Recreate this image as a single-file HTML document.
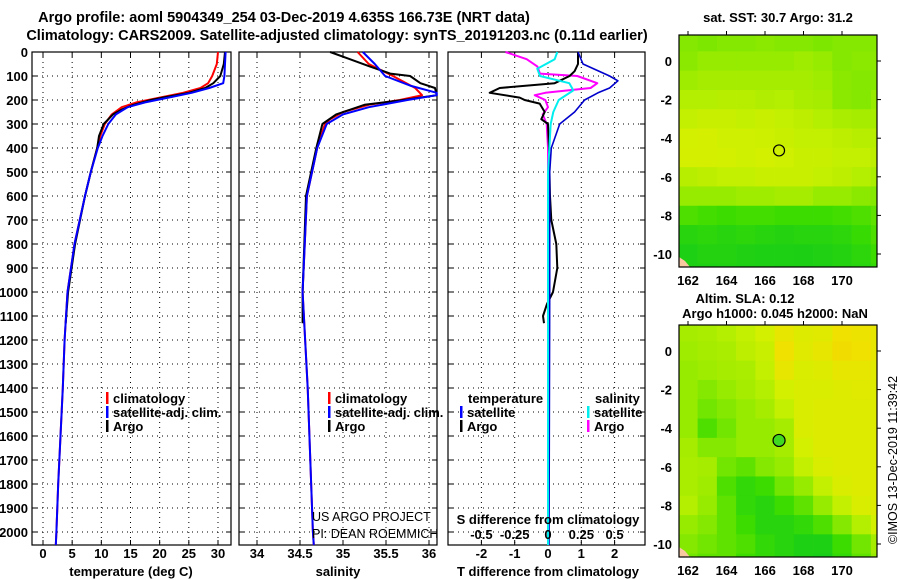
<!DOCTYPE html>
<html><head><meta charset="utf-8"><style>
html,body{margin:0;padding:0;background:#fff;}
svg{display:block;font-family:"Liberation Sans",sans-serif;}
.b{font-weight:bold;font-size:13px;}
.t{font-weight:bold;font-size:14.5px;}
</style></head><body>
<svg id="s" width="900" height="580" xmlns="http://www.w3.org/2000/svg"></svg>
<script>
// ---- data ----
const depthTicks=[0,100,200,300,400,500,600,700,800,900,1000,1100,1200,1300,1400,1500,1600,1700,1800,1900,2000];
const tempTicks=[0,5,10,15,20,25,30];
const salTicks=[34,34.5,35,35.5,36];
const diffTicks=[-2,-1,0,1,2];
const sdiffTicks=[-0.5,-0.25,0,0.25,0.5];
const tempClimD=[0,50,100,130,150,170,190,210,230,260,300,350,400,500,600,800,1000,1200,1400,1600,1800,2000,2054];
const tempClimV=[30,29.8,29,28.3,27,24,20,16,13.5,11.8,10.6,9.8,9.3,8.2,7.2,5.4,4.2,3.7,3.4,3.0,2.6,2.3,2.2];
const tempSatD=[0,50,100,130,150,170,190,210,230,260,300,350,400,500,600,800,1000,1200,1400,1600,1800,2000,2054];
const tempSatV=[31.3,31.2,31.1,30.9,28.5,25.5,21.5,17.5,14.5,12.5,11.2,10.2,9.4,8.2,7.2,5.4,4.2,3.7,3.4,3.0,2.6,2.3,2.2];
const tempArgoD=[0,50,100,130,150,170,190,200,220,240,260,300,350,400,500,600,800,1000,1130];
const tempArgoV=[31.2,31.0,30.4,29.2,27.8,25,20.5,18.5,15.5,13.5,12,10.4,9.6,9.3,8.2,7.2,5.5,4.3,3.9];
const salClimD=[0,50,100,150,180,200,220,250,280,300,400,600,1000,1400,2000,2054];
const salClimV=[35.17,35.3,35.58,35.84,35.92,35.66,35.3,35.0,34.85,34.79,34.7,34.58,34.53,34.59,34.65,34.66];
const salSatD=[0,50,100,140,170,180,200,230,260,300,400,600,1000,1400,2000,2054];
const salSatV=[35.23,35.37,35.49,35.78,36.09,36.09,35.75,35.3,35.0,34.81,34.7,34.58,34.53,34.59,34.65,34.66];
const salArgoD=[0,30,60,90,100,130,150,180,200,220,260,300,400,600,1000,1130];
const salArgoV=[34.85,35.08,35.31,35.55,35.78,35.9,36.07,36.09,35.7,35.25,34.92,34.76,34.69,34.57,34.53,34.53];
const dTSatD=[0,50,100,120,150,170,200,250,300,400,500,1000,2054];
const dTSatV=[0.9,1.05,1.85,2.1,1.85,1.5,1.1,0.8,0.35,0.1,0.05,0.05,0.03];
const dTArgoD=[0,50,80,100,130,150,170,190,200,215,250,280,300,400,600,700,800,900,1000,1050,1100,1130];
const dTArgoV=[0.9,0.9,0.8,0.65,0.2,-1.45,-1.75,-0.85,-0.7,-0.25,-0.1,-0.2,0,0.03,0.06,0.1,0.25,0.28,0.15,-0.03,-0.15,-0.12];
const dSSatD=[0,30,70,100,130,160,200,250,300,500,1000,2054];
const dSSatV=[0.07,0.05,-0.08,-0.06,0.16,0.19,0.08,0.04,0.02,0,0,0];
const dSArgoD=[0,30,60,90,100,130,150,170,180,200,230,260,300,400,1130];
const dSArgoV=[-0.32,-0.16,-0.08,-0.06,0.22,0.37,0.32,-0.02,-0.1,-0.02,0,-0.04,-0.01,0,0];
const mapLonTicks=[162,164,166,168,170];
const mapLatTicks=[0,-2,-4,-6,-8,-10];
const sstGrid=[
[.5,.48,.5,.5,.52,.5,.5,.48,.5,.5,.5],
[.52,.55,.55,.55,.55,.55,.58,.55,.5,.52,.52],
[.58,.6,.6,.6,.6,.6,.6,.58,.52,.5,.5],
[.65,.65,.66,.66,.64,.65,.62,.6,.52,.5,.55],
[.7,.72,.72,.7,.72,.7,.68,.65,.62,.6,.6],
[.75,.76,.74,.74,.73,.72,.7,.7,.68,.66,.66],
[.76,.76,.75,.74,.75,.74,.72,.72,.7,.7,.68],
[.66,.68,.7,.7,.72,.72,.72,.7,.68,.65,.62],
[.55,.55,.55,.58,.58,.6,.6,.55,.55,.52,.5],
[.35,.32,.3,.32,.32,.3,.3,.3,.32,.35,.4],
[.2,.22,.2,.22,.2,.18,.2,.2,.22,.28,.35],
[.15,.18,.18,.16,.15,.15,.14,.16,.18,.22,.3],
[.15,.15,.16,.15,.15,.14,.14,.15,.18,.2,.25]];
const slaGrid=[
[.6,.62,.65,.7,.75,.85,.8,.82,.9,.88,.85],
[.58,.6,.62,.68,.72,.9,.82,.85,.92,.9,.85],
[.55,.58,.6,.62,.7,.85,.78,.8,.85,.85,.82],
[.55,.5,.55,.6,.65,.75,.78,.78,.8,.82,.8],
[.55,.45,.5,.55,.6,.7,.78,.8,.8,.8,.8],
[.55,.35,.45,.55,.55,.6,.78,.8,.8,.8,.8],
[.6,.5,.5,.55,.55,.6,.75,.8,.8,.8,.8],
[.62,.6,.45,.4,.5,.55,.7,.78,.8,.8,.8],
[.62,.58,.35,.25,.3,.45,.55,.7,.78,.8,.8],
[.65,.55,.4,.25,.2,.3,.4,.55,.7,.78,.8],
[.55,.5,.4,.3,.2,.2,.25,.35,.5,.65,.75],
[.5,.45,.4,.35,.25,.2,.15,.15,.3,.45,.6],
[.45,.4,.4,.3,.25,.2,.15,.12,.25,.4,.55]];
const argoLon=166.73, argoLat=-4.635;

// ---- helpers ----
const S=document.getElementById('s');const NS='http://www.w3.org/2000/svg';
function el(tag,at,parent){const e=document.createElementNS(NS,tag);for(const k in at)e.setAttribute(k,at[k]);(parent||S).appendChild(e);return e;}
function txt(x,y,s,cls,anchor,extra){const e=el('text',Object.assign({x:x,y:y,class:cls||'b','text-anchor':anchor||'start'},extra||{}));e.textContent=s;return e;}
const Y=d=>52+d*0.24;
const XT=t=>43+t*5.833;
const XS=s=>257+(s-34)*86;
const XD=v=>548+v*33.3;
const XSD=v=>548+v*133.2;
const TOP=52,BOT=545;

function frame(x0,x1,name,ticksX,fx){
  const g=el('g',{});
  
  
  depthTicks.forEach(d=>{el('line',{x1:x0,x2:x1,y1:Y(d),y2:Y(d),stroke:'#000','stroke-dasharray':'1,4','stroke-width':1},g);
    el('line',{x1:x0,x2:x0+5,y1:Y(d),y2:Y(d),stroke:'#000'},g);el('line',{x1:x1-5,x2:x1,y1:Y(d),y2:Y(d),stroke:'#000'},g);});
  ticksX.forEach(t=>{const x=fx(t);el('line',{x1:x,x2:x,y1:TOP,y2:BOT,stroke:'#000','stroke-dasharray':'1,4'},g);
    el('line',{x1:x,x2:x,y1:BOT,y2:BOT-5,stroke:'#000'},g);el('line',{x1:x,x2:x,y1:TOP,y2:TOP+5,stroke:'#000'},g);});
  el('rect',{x:x0,y:TOP,width:x1-x0,height:BOT-TOP,fill:'none',stroke:'#000','stroke-width':1.2},g);
  return g;
}
function line(D,V,fx,color,name,w){
  const p=D.map((d,i)=>fx(V[i]).toFixed(1)+','+Y(d).toFixed(1)).join(' ');
  const e=el('polyline',{points:p,fill:'none',stroke:color,'stroke-width':w||2,'stroke-linejoin':'round'});
  
  
}

// titles
txt(284,22,'Argo profile: aoml 5904349_254 03-Dec-2019 4.635S 166.73E (NRT data)','t','middle',{'font-size':'13.6px'});
txt(337,40,'Climatology: CARS2009. Satellite-adjusted climatology: synTS_20191203.nc (0.11d earlier)','t','middle');

// depth labels
depthTicks.forEach(d=>{const e=txt(28,Y(d)+5,String(d),'b','end');});

// panel 1
frame(32,231,'temperature-panel',tempTicks,XT);
tempTicks.forEach(t=>txt(XT(t),558,String(t),'b','middle'));
txt(131,576,'temperature (deg C)','b','middle');
line(tempClimD,tempClimV,XT,'#f00','temp-climatology-line');
line(tempArgoD,tempArgoV,XT,'#000','temp-argo-line');
line(tempSatD,tempSatV,XT,'#00f','temp-satellite-line');

// panel 2
frame(239,437,'salinity-panel',salTicks,XS);
salTicks.forEach(t=>txt(XS(t),558,String(t),'b','middle'));
txt(338,576,'salinity','b','middle');
line(salClimD,salClimV,XS,'#f00','sal-climatology-line');
line(salArgoD,salArgoV,XS,'#000','sal-argo-line');
line(salSatD,salSatV,XS,'#00f','sal-satellite-line');

// panel 3
frame(448,645,'difference-panel',diffTicks,XD);
diffTicks.forEach(t=>txt(XD(t),558,String(t),'b','middle'));
txt(548,576,'T difference from climatology','b','middle');
line(dSArgoD,dSArgoV,XSD,'#f0f','sdiff-argo-line');
line(dTArgoD,dTArgoV,XD,'#000','tdiff-argo-line');
line(dTSatD,dTSatV,XD,'#00c','tdiff-satellite-line',1.6);
line(dSSatD,dSSatV,XSD,'#0ee','sdiff-satellite-line');
txt(548,524,'S difference from climatology','b','middle');
sdiffTicks.forEach(t=>txt(XSD(t),539,String(t),'b','middle'));

// legends
function legItem(x,y,color,label,name){
  const g=el('g',{});
  el('rect',{x:x,y:y-6,width:2.5,height:12,fill:color},g);
  const t=document.createElementNS(NS,'text');t.setAttribute('x',x+7);t.setAttribute('y',y+5);t.setAttribute('class','b');t.textContent=label;g.appendChild(t);
}
legItem(106,398,'#f00','climatology','legend-climatology');
legItem(106,412,'#00f','satellite-adj. clim.','legend-satellite');
legItem(106,426,'#000','Argo','legend-argo');
legItem(328,398,'#f00','climatology','legend-climatology-2');
legItem(328,412,'#00f','satellite-adj. clim.','legend-satellite-2');
legItem(328,426,'#000','Argo','legend-argo-2');
txt(468,403,'temperature');txt(595,403,'salinity');
legItem(460,412,'#00f','satellite','legend-t-satellite');
legItem(460,426,'#000','Argo','legend-t-argo');
legItem(587,412,'#0ee','satellite','legend-s-satellite');
legItem(587,426,'#f0f','Argo','legend-s-argo');
txt(312,521,'US ARGO PROJECT','n','start',{'font-size':'12.5px'});
txt(312,538,'PI: DEAN ROEMMICH','n','start',{'font-size':'12.5px'});

// maps
function cmap(v){const stops=[[0,[0,196,40]],[0.3,[60,220,0]],[0.55,[150,235,0]],[0.75,[210,240,0]],[0.9,[240,225,0]],[1,[245,200,0]]];
  for(let i=1;i<stops.length;i++){if(v<=stops[i][0]){const a=stops[i-1],b=stops[i],f=(v-a[0])/(b[0]-a[0]);return 'rgb('+a[1].map((c,j)=>Math.round(c+(b[1][j]-c)*f)).join(',')+')';}}return 'rgb(245,200,0)';}
function map(y0,grid,name,filled){
  const x0=679,x1=877,y1=y0+232;
  const LX=lon=>688+(lon-162)*19.25, LY=lat=>y0+26+(-lat)*19.3;
  const g=el('g',{});
  const cid='c'+y0;const cp=el('clipPath',{id:cid},g);el('rect',{x:x0,y:y0,width:x1-x0,height:y1-y0},cp);
  const cg=el('g',{'clip-path':'url(#'+cid+')'},g);
  grid.forEach((row,r)=>row.forEach((v,c)=>{const cell=el('rect',{x:LX(161.5+c),y:LY(1.5-r),width:19.6,height:19.7,fill:cmap(v)},cg);
    }));
  el('path',{d:'M'+x0+' '+y1+' L'+x0+' '+(y1-10)+' L'+(x0+6)+' '+(y1-6)+' L'+(x0+11)+' '+y1+' Z',fill:'#f8c8a0'},cg);
  el('rect',{x:x0,y:y0,width:x1-x0,height:y1-y0,fill:'none',stroke:'#000','stroke-width':1.2},g);
  mapLonTicks.forEach(l=>{el('line',{x1:LX(l),x2:LX(l),y1:y0-4,y2:y0,stroke:'#000'},g);txt(LX(l),y1+18,String(l),'b','middle');});
  mapLatTicks.forEach(l=>{el('line',{x1:x1,x2:x1+4,y1:LY(l),y2:LY(l),stroke:'#000'},g);txt(672,LY(l)+5,String(l),'b','end');});
  const c=el('circle',{cx:LX(argoLon),cy:LY(argoLat),r:filled?6:5.5,fill:filled?'#40d820':'none',stroke:'#000','stroke-width':1.2},g);
  
}
txt(778,22,'sat. SST: 30.7 Argo: 31.2','b','middle',{'font-size':'12px'});
map(35,sstGrid,'sst-map',false);
txt(745,303,'Altim. SLA: 0.12','b','middle',{'font-size':'12px'});
txt(775,318,'Argo h1000: 0.045 h2000: NaN','b','middle',{'font-size':'12px'});
map(325,slaGrid,'sla-map',true);
txt(0,0,'©IMOS 13-Dec-2019 11:39:42','n','middle',{'font-size':'12.5px',transform:'translate(897,460) rotate(-90)'});
</script>
</body></html>
